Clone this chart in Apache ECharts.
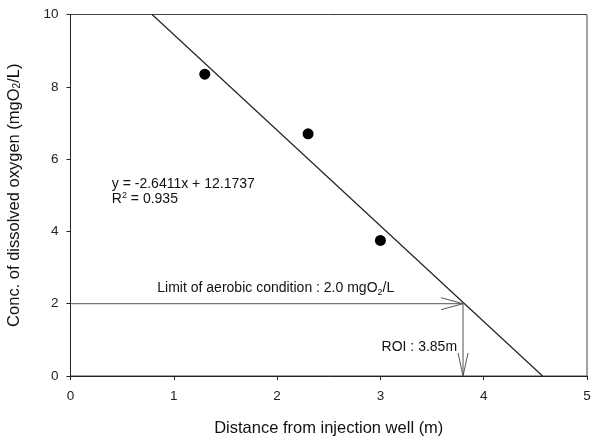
<!DOCTYPE html>
<html><head><meta charset="utf-8">
<script src="https://cdn.jsdelivr.net/npm/echarts@6/dist/echarts.min.js"></script>
<style>html,body{margin:0;padding:0;background:#fff}#c{width:594px;height:441px}</style>
</head><body><div id="c"></div>
<script>
// Observed points
const obsX = [1.3, 2.3, 3.0];
const obsY = [8.35, 6.7, 3.75];
// Regression line endpoints (as drawn)
const fitX = [0.79, 4.57];
const fitY = [10, 0];
// Annotation values
const limitConc = 2.0;
const roiDist = 3.8;
const eqLine = 'y = -2.6411x + 12.1737';
const r2Value = '0.935';
const limitLabel = 'Limit of aerobic condition : 2.0 mgO';
const roiLabel = 'ROI : 3.85m';
const xTicks = [0, 1, 2, 3, 4, 5];
const yTicks = [0, 2, 4, 6, 8, 10];

const FONT = '"Liberation Sans", Arial, sans-serif';
const chart = echarts.init(document.getElementById('c'), null, {renderer: 'canvas'});

function arrowHead(tip, dir, len, half) {
  const bx = tip[0] - dir[0] * len, by = tip[1] - dir[1] * len;
  const px = -dir[1] * half, py = dir[0] * half;
  return [[bx + px, by + py], tip, [bx - px, by - py]];
}

const option = {
  animation: false,
  grid: {left: 70.5, right: 7, top: 14.5, bottom: 65, show: true, borderColor: '#444', borderWidth: 1,
         backgroundColor: 'transparent', containLabel: false, outerBoundsMode: 'none'},
  xAxis: {
    type: 'value', min: xTicks[0], max: xTicks[xTicks.length - 1], interval: 1,
    name: 'Distance from injection well (m)', nameLocation: 'middle', nameGap: 44,
    nameTextStyle: {fontFamily: FONT, fontSize: 16.5, color: '#111'},
    axisLine: {show: true, onZero: false, lineStyle: {color: '#222', width: 1}},
    axisTick: {show: true, inside: false, length: 4, lineStyle: {color: '#222'}},
    axisLabel: {fontFamily: FONT, fontSize: 13.5, color: '#222', margin: 13},
    splitLine: {show: false}
  },
  yAxis: {
    type: 'value', min: yTicks[0], max: yTicks[yTicks.length - 1], interval: 2,
    name: '{a|Conc. of dissolved oxygen (mgO}{s|2}{a|/L)}', nameLocation: 'middle', nameGap: 48, nameRotate: 90,
    nameTextStyle: {rich: {
      a: {fontFamily: FONT, fontSize: 16.5, color: '#111'},
      s: {fontFamily: FONT, fontSize: 10, color: '#111', verticalAlign: 'bottom', lineHeight: 11, padding: [9, 0, 0, 0]}
    }},
    axisLine: {show: true, onZero: false, lineStyle: {color: '#222', width: 1}},
    axisTick: {show: true, inside: false, length: 4, lineStyle: {color: '#222'}},
    axisLabel: {fontFamily: FONT, fontSize: 13.5, color: '#222', margin: 12},
    splitLine: {show: false}
  },
  series: [
    {
      type: 'line', data: fitX.map((x, i) => [x, fitY[i]]), symbol: 'none',
      lineStyle: {color: '#222', width: 1.2}, z: 2
    },
    {
      type: 'scatter', data: obsX.map((x, i) => [x, obsY[i]]), symbolSize: 11,
      itemStyle: {color: '#000', opacity: 1}, z: 3
    },
    {
      type: 'custom', data: [[0]], z: 4, silent: true,
      renderItem: function (params, api) {
        const start = api.coord([0, limitConc]);
        const corner = api.coord([roiDist, limitConc]);
        const bottom = api.coord([roiDist, 0]);
        const ls = {stroke: '#555', lineWidth: 1, fill: null};
        const eqPos = api.coord([0.4, 5.4]);
        const limPos = api.coord([0.85, limitConc]);
        return {
          type: 'group',
          children: [
            {type: 'polyline', shape: {points: [start, corner]}, style: ls},
            {type: 'polyline', shape: {points: arrowHead(corner, [1, 0], 22, 6)}, style: ls},
            {type: 'polyline', shape: {points: [corner, bottom]}, style: ls},
            {type: 'polyline', shape: {points: arrowHead(bottom, [0, 1], 23, 5)}, style: ls},
            {type: 'text', x: eqPos[0], y: eqPos[1] + 3, style: {
              text: eqLine, font: '14px ' + FONT, fill: '#111', textVerticalAlign: 'middle'}},
            {type: 'text', x: eqPos[0], y: eqPos[1] + 18, style: {
              text: '{a|R}{s|2}{a| = ' + r2Value + '}', fill: '#111', textVerticalAlign: 'middle',
              rich: {a: {fontFamily: FONT, fontSize: 14, fill: '#111'},
                     s: {fontFamily: FONT, fontSize: 9, fill: '#111', padding: [0, 0, 7, 0]}}}},
            {type: 'text', x: limPos[0] - 1, y: limPos[1] - 16, style: {
              text: '{a|' + limitLabel + '}{s|2}{a|/L}', fill: '#111', textVerticalAlign: 'middle',
              rich: {a: {fontFamily: FONT, fontSize: 14, fill: '#111'},
                     s: {fontFamily: FONT, fontSize: 9, fill: '#111', padding: [9, 0, 0, 0]}}}},
            {type: 'text', x: corner[0] - 6, y: (corner[1] + bottom[1]) / 2 + 7, style: {
              text: roiLabel, font: '14px ' + FONT, fill: '#111', textAlign: 'right', textVerticalAlign: 'middle'}}
          ]
        };
      }
    }
  ]
};
chart.setOption(option);
</script></body></html>
